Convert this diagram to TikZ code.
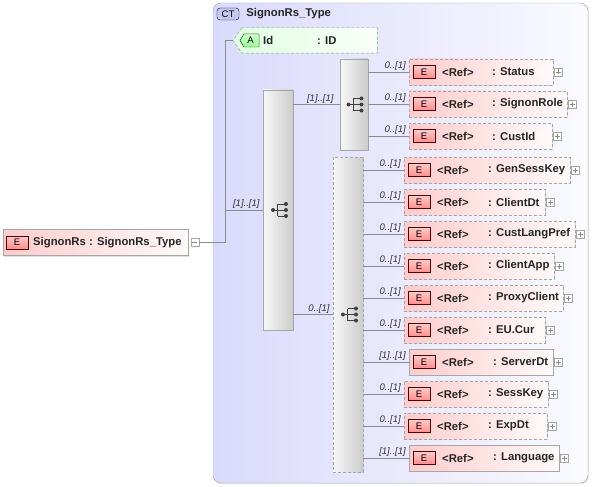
\documentclass[tikz,border=0pt]{standalone}
\usepackage{fontspec}
\setmainfont{Liberation Sans}
\usetikzlibrary{shadows}

\begin{document}
\begin{tikzpicture}[x=1pt, y=-1pt]
    \tikzset{conn/.style={draw=black!45, line width=0.6pt}}
    \tikzset{mult/.style={pos=1, anchor=south east, xshift=-2pt, inner sep=1pt, font=\fontsize{9.5}{10}\selectfont\itshape, text=black!80}}
    \tikzset{elem/.style={anchor=west, minimum height=26pt, inner sep=0pt, draw=black!35, left color=red!20, right color=red!2, drop shadow={shadow xshift=1.2pt, shadow yshift=-1.2pt, opacity=0.25}}}
    \tikzset{opt/.style={dash pattern=on 3pt off 2pt}}
    \tikzset{req/.style={solid}}
    \tikzset{eicon/.style={minimum width=22pt, minimum height=13pt, inner sep=0pt, draw=red!35!black, top color=red!20, bottom color=red!45, font=\fontsize{9.5}{10}\selectfont}}
    \tikzset{etext/.style={anchor=west, inner sep=0pt, font=\fontsize{11.3}{13}\selectfont\bfseries, text=black!85}}
    \tikzset{plusbox/.style={draw=black!35, fill=white, minimum size=8pt, inner sep=0pt,
      path picture={\draw[black!45] ([xshift=1.5pt]path picture bounding box.west) -- ([xshift=-1.5pt]path picture bounding box.east)
        ([yshift=-1.5pt]path picture bounding box.north) -- ([yshift=1.5pt]path picture bounding box.south);}}}
    \tikzset{minusbox/.style={draw=black!35, fill=white, minimum size=8pt, inner sep=0pt,
      path picture={\draw[black!45] ([xshift=1.5pt]path picture bounding box.west) -- ([xshift=-1.5pt]path picture bounding box.east);}}}
    \tikzset{seqbox/.style={inner sep=0pt, draw=black!35, left color=black!3, right color=black!20, drop shadow={shadow xshift=1.2pt, shadow yshift=-1.2pt, opacity=0.2}}}
    \tikzset{seqicon/.pic={
      \draw[black!75, line width=0.8pt] (-6.5,0) -- (-2,0) (-2,-6) -- (-2,6) (-2,-6) -- (6.5,-6) (-2,0) -- (6.5,0) (-2,6) -- (6.5,6);
      \fill[black!75] (-6.5,0) circle[radius=2pt] (6.5,-6) circle[radius=2pt] (6.5,0) circle[radius=2pt] (6.5,6) circle[radius=2pt];}}
    \tikzset{ctframe/.style={draw=black!35, rounded corners=8pt, left color={rgb,255:red,218;green,218;blue,252}, right color={rgb,255:red,250;green,250;blue,255}, drop shadow={shadow xshift=1.2pt, shadow yshift=-1.2pt, opacity=0.2}}}
    \tikzset{cticon/.style={minimum width=22pt, minimum height=12pt, inner sep=0pt, rounded corners=3pt, draw=blue!25!black, fill={rgb,255:red,200;green,200;blue,238}, font=\fontsize{9.5}{10}\selectfont}}
    \tikzset{attrshape/.style={draw=green!45!black!60, dash pattern=on 3pt off 2pt, left color=green!12, right color=green!2}}
    \tikzset{aicon/.style={draw=green!30!black, top color=green!20, bottom color=green!40}}

    % bounding box
    \useasboundingbox (0,0) rectangle (592,487);

    % complex type frame
    \node[ctframe, minimum width=375pt, minimum height=480pt] (ct) at (400.5,243) {};
    \node[cticon] (ct icon) at (228,14) {CT};
    \node[etext] (ct title) at ([xshift=7pt]ct icon.east) {SignonRs\_Type};

    % root element
    \node[elem, req, minimum width=185pt] (root) at (3,242.5) {};
    \node[eicon] (root icon) at ([xshift=14pt]root.west) {E};
    \node[etext] (root name) at ([xshift=30pt]root.west) {SignonRs : SignonRs\_Type};
    \node[minusbox] (root minus) at ([xshift=6.5pt]root.east) {};

    % attribute
    \node[minimum width=144pt, minimum height=25pt, inner sep=0pt, anchor=west] (attr) at (233,40.5) {};
    \draw[attrshape] ([xshift=9pt]attr.north west) -- (attr.west) -- ([xshift=9pt]attr.south west) -- (attr.south east) -- (attr.north east) -- cycle;
    \filldraw[aicon] ([xshift=7pt]attr.west) -- ([xshift=11pt,yshift=6.5pt]attr.west) -- ([xshift=26pt,yshift=6.5pt]attr.west)
      -- ([xshift=26pt,yshift=-6.5pt]attr.west) -- ([xshift=11pt,yshift=-6.5pt]attr.west) -- cycle;
    \node[inner sep=0pt, font=\fontsize{9.5}{10}\selectfont] (attr letter) at ([xshift=17.5pt]attr.west) {A};
    \node[etext] (attr name) at ([xshift=30pt]attr.west) {Id};
    \node[etext] (attr type) at ([xshift=84pt]attr.west) {: ID};

    % sequences
    \node[seqbox, minimum width=30pt, minimum height=240pt] (seq outer) at (278,210) {};
    \node[seqbox, minimum width=28pt, minimum height=91pt] (seq top) at (354,104.5) {};
    \node[seqbox, opt, minimum width=30pt, minimum height=315pt] (seq rest) at (348,314.5) {};
    \pic at ([xshift=1.5pt]seq outer.center) {seqicon};
    \pic at ([xshift=1pt]seq top.center) {seqicon};
    \pic at ([xshift=1.5pt]seq rest.center) {seqicon};

    % connectors
    \coordinate (trunk) at ([xshift=-8pt]attr.west);
    \draw[conn] (root minus.east) -| (trunk) -- (attr.west);
    \draw[conn] (trunk |- seq outer.west) -- node[mult] {[1]..[1]} (seq outer.west);
    \draw[conn] (seq outer.east |- seq top.west) -- node[mult, xshift=-3pt] {[1]..[1]} (seq top.west);
    \draw[conn] (seq outer.east |- seq rest.west) -- node[mult] {0..[1]} (seq rest.west);

    % elements of the first sequence
    \foreach \id/\y/\w/\txt in {status/72/144/Status, role/104/158/SignonRole, cust/136/143/CustId} {
      \node[elem, opt, minimum width=\w pt] (\id) at (409,\y) {};
      \node[eicon] (\id-icon) at ([xshift=15pt]\id.west) {E};
      \node[etext] (\id-ref) at ([xshift=33pt]\id.west) {<Ref>};
      \node[etext] (\id-name) at ([xshift=83pt]\id.west) {: \txt};
      \node[plusbox] (\id-plus) at ([xshift=5pt]\id.east) {};
      \draw[conn] (seq top.east |- \id.west) -- node[mult] {0..[1]} (\id.west);
    }

    % elements of the second sequence
    \foreach \id/\y/\x/\w/\kind/\m/\txt in {
        gen/170/404/166/opt/0..[1]/GenSessKey,
        cdt/202/404/141/opt/0..[1]/ClientDt,
        lang/234/404/171/opt/0..[1]/CustLangPref,
        app/266/404/150/opt/0..[1]/ClientApp,
        proxy/298/404/159/opt/0..[1]/ProxyClient,
        cur/330/404/141/opt/0..[1]/EU.Cur,
        sdt/362/409/144/req/[1]..[1]/ServerDt,
        skey/394/404/144/opt/0..[1]/SessKey,
        exp/426/404/143/opt/0..[1]/ExpDt,
        language/458/409/150/req/[1]..[1]/Language} {
      \node[elem, \kind, minimum width=\w pt] (\id) at (\x,\y) {};
      \node[eicon] (\id-icon) at ([xshift=15pt]\id.west) {E};
      \node[etext] (\id-ref) at ([xshift=33pt]\id.west) {<Ref>};
      \node[etext] (\id-name) at ([xshift=84pt]\id.west) {: \txt};
      \node[plusbox] (\id-plus) at ([xshift=5pt]\id.east) {};
      \draw[conn] (seq rest.east |- \id.west) -- node[mult] {\m} (\id.west);
    }

\end{tikzpicture}
\end{document}
